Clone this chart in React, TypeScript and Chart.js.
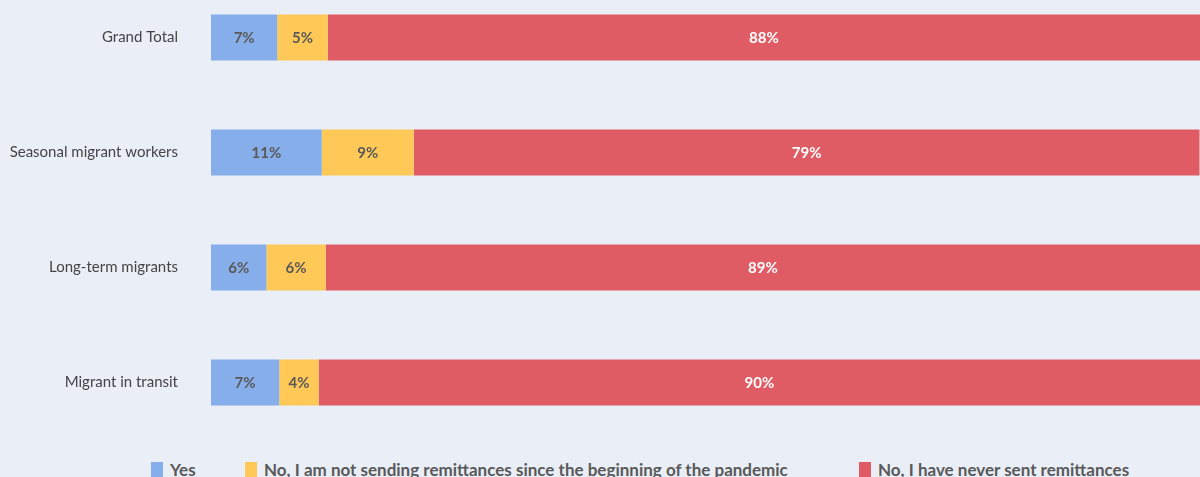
import React, { useEffect, useRef } from "react";
import { Chart, registerables } from "chart.js";

Chart.register(...registerables);

const categories = ["Grand Total", "Seasonal migrant workers", "Long-term migrants", "Migrant in transit"];
const yesValues = [6.7, 11.2, 5.6, 6.9];
const notSinceValues = [5.1, 9.3, 6.0, 4.0];
const neverValues = [88.2, 79.45, 88.5, 89.6];
const seriesNames = [
  "Yes",
  "No, I am not sending remittances since the beginning of the pandemic",
  "No, I have never sent remittances",
];
const seriesColors = ["#86AEEA", "#FFC857", "#E05C65"];
const labelColors = ["#595959", "#595959", "#FFFFFF"];

const FONT = "Lato, 'Open Sans', sans-serif";
const BG = "#E9EEF7";

const barLabelPlugin = {
  id: "barLabels",
  afterDatasetsDraw(chart: any) {
    const ctx = chart.ctx;
    ctx.save();
    ctx.font = `bold 15px ${FONT}`;
    ctx.textAlign = "center";
    ctx.textBaseline = "middle";
    chart.data.datasets.forEach((ds: any, di: number) => {
      const meta = chart.getDatasetMeta(di);
      meta.data.forEach((el: any, i: number) => {
        const v = ds.data[i];
        const right = Math.min(el.x, chart.chartArea.right);
        const cx = (right + el.base) / 2;
        ctx.fillStyle = labelColors[di];
        ctx.fillText(Math.round(v) + "%", cx, el.y + 1);
      });
    });
    ctx.restore();
  },
};

export default function App() {
  const ref = useRef<HTMLCanvasElement | null>(null);
  useEffect(() => {
    document.body.style.margin = "0";
    const chart = new Chart(ref.current as HTMLCanvasElement, {
      type: "bar",
      data: {
        labels: categories,
        datasets: [yesValues, notSinceValues, neverValues].map((d, i) => ({
          label: seriesNames[i],
          data: d,
          backgroundColor: seriesColors[i],
          borderWidth: 0,
          barPercentage: 0.4,
          categoryPercentage: 1,
        })),
      },
      options: {
        indexAxis: "y",
        animation: false,
        responsive: false,
        maintainAspectRatio: false,
        devicePixelRatio: 1,
        layout: { padding: 0 },
        plugins: { legend: { display: false }, tooltip: { enabled: false } },
        scales: {
          x: { stacked: true, min: 0, max: 100, display: false },
          y: {
            stacked: true,
            grid: { display: false, drawTicks: false },
            border: { display: false },
            ticks: { padding: 33, color: "#444444", font: { family: FONT, size: 15 } },
            afterFit: (scale: any) => {
              scale.width = 211;
              scale.paddingTop = 0;
              scale.paddingBottom = 0;
            },
          },
        },
      },
      plugins: [barLabelPlugin],
    } as any);
    return () => chart.destroy();
  }, []);

  return (
    <div
      style={{
        position: "fixed",
        left: 0,
        top: 0,
        width: 1200,
        height: 477,
        overflow: "hidden",
        background: BG,
        fontFamily: FONT,
      }}
    >
      <canvas
        ref={ref}
        width={1200}
        height={460}
        style={{ position: "absolute", left: 0, top: -20, width: 1200, height: 460 }}
      />
      {seriesNames.map((name, i) => (
        <div
          key={name}
          style={{
            position: "absolute",
            top: 460,
            left: [151, 245, 859][i],
            display: "flex",
            alignItems: "flex-start",
            fontSize: 17,
            lineHeight: "20px",
            fontWeight: 700,
            color: "#595959",
            whiteSpace: "nowrap",
          }}
        >
          <span
            style={{
              display: "inline-block",
              width: 12,
              height: 16,
              marginTop: 2,
              marginRight: 7,
              background: seriesColors[i],
            }}
          />
          <span>{name}</span>
        </div>
      ))}
    </div>
  );
}
